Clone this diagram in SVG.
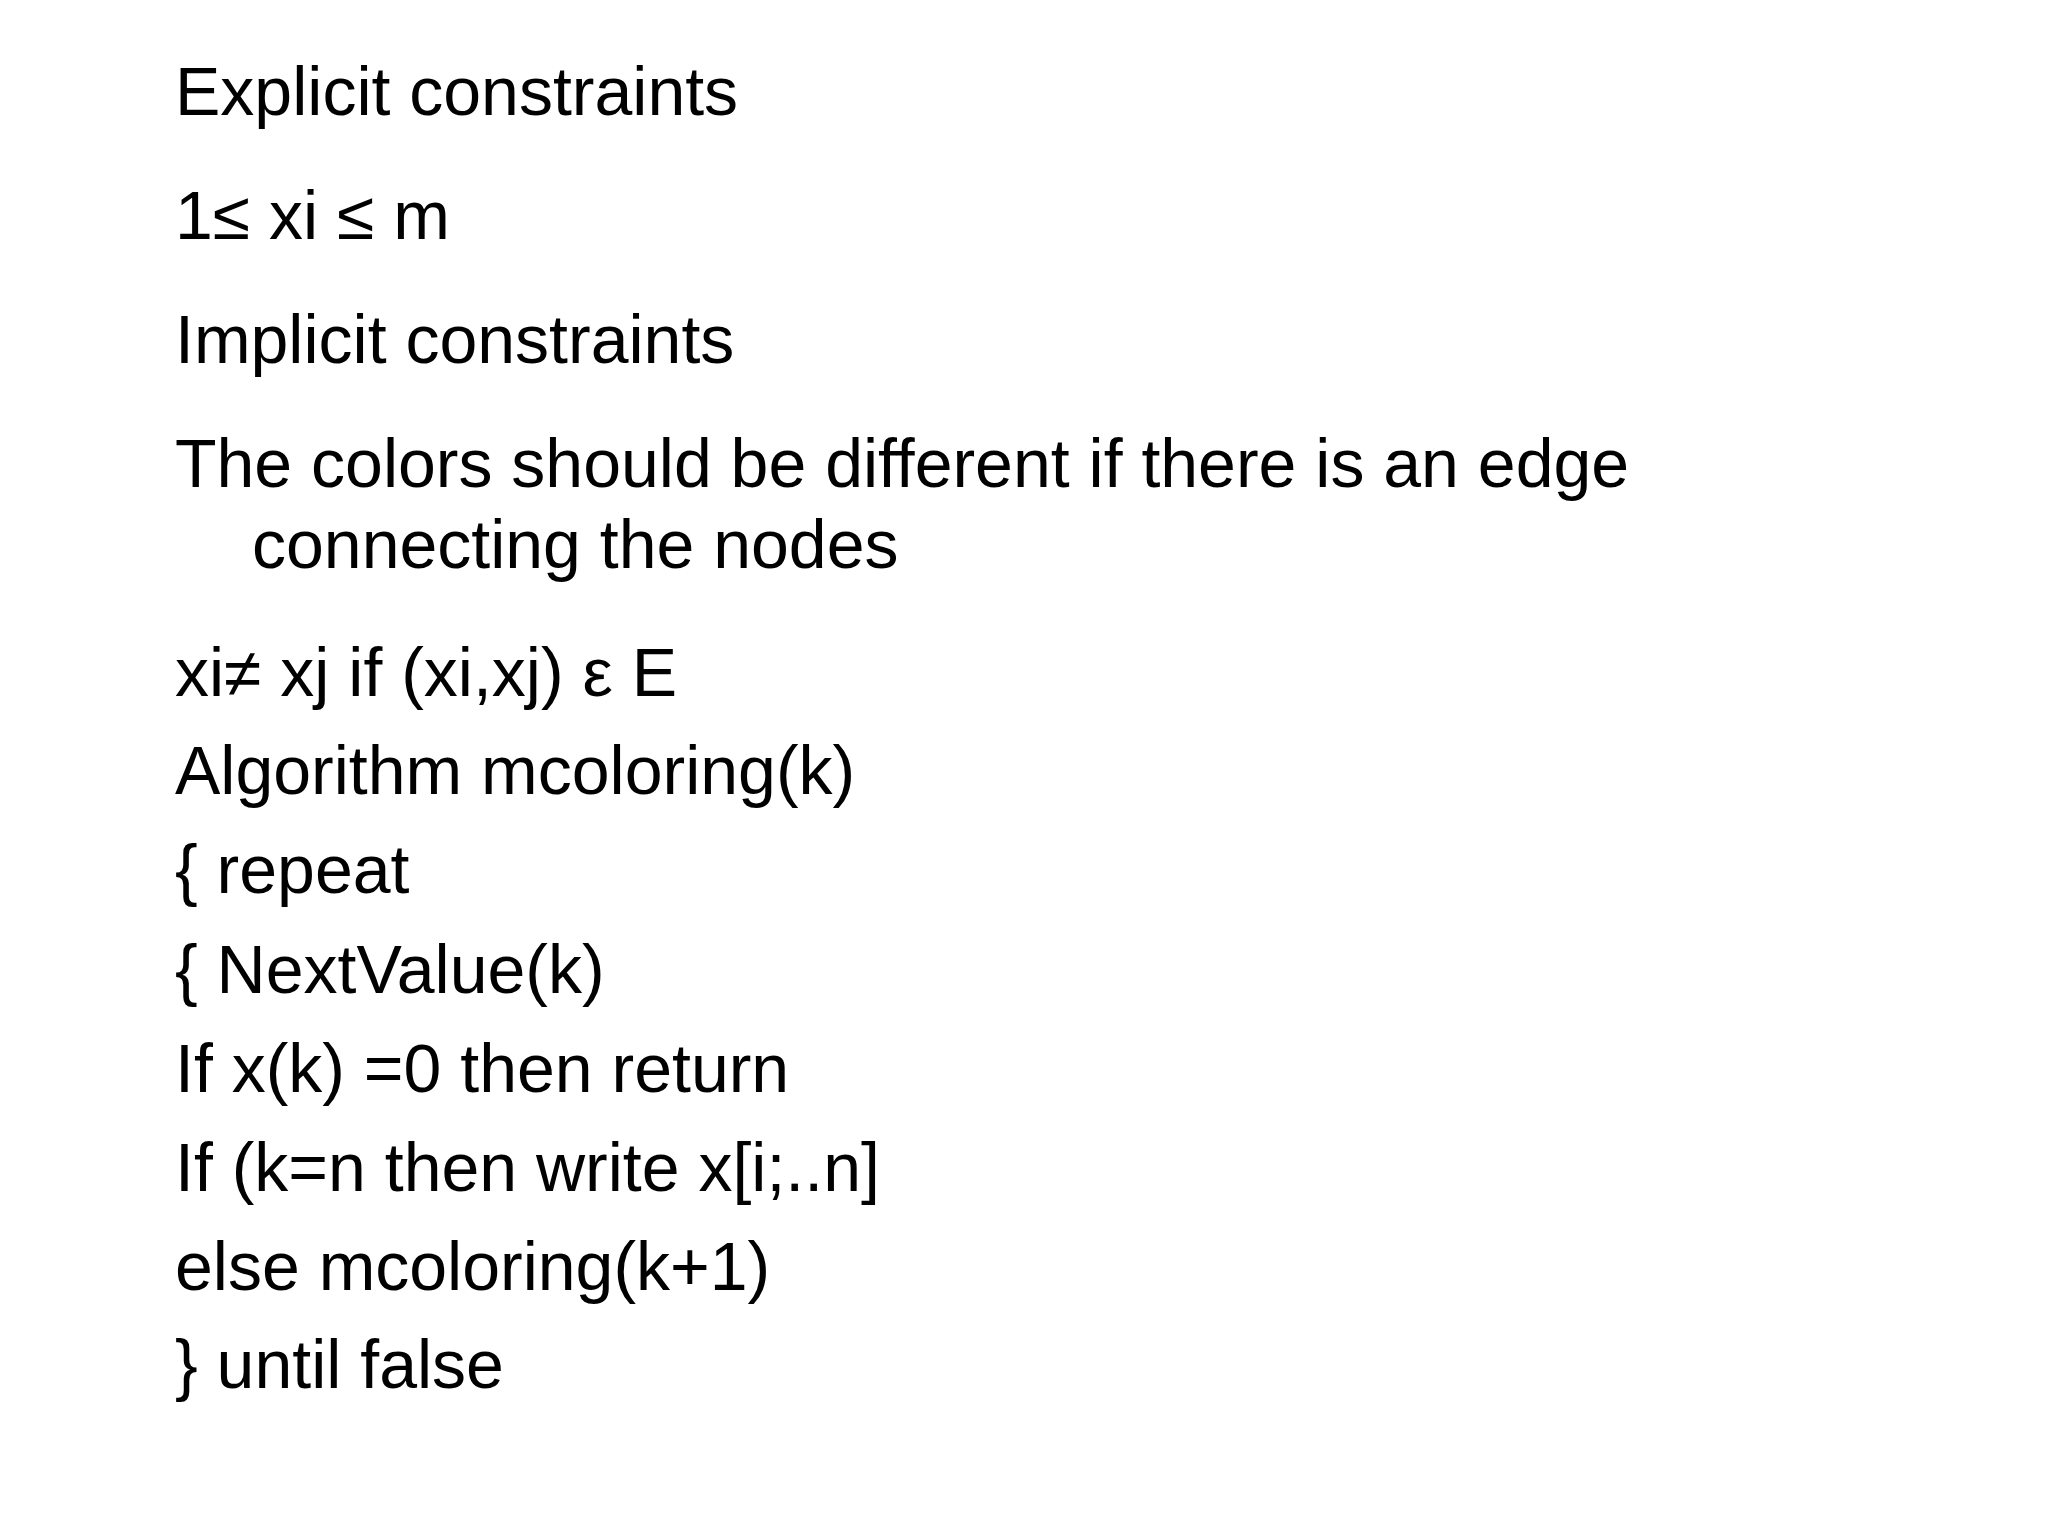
<svg xmlns="http://www.w3.org/2000/svg" width="2048" height="1536" viewBox="0 0 2048 1536">
<style>text{font-family:"Liberation Sans",Arial,sans-serif;font-size:68px;fill:#000}</style>
<rect width="2048" height="1536" fill="#fff"/>
<g id="content">
<text x="175" y="115">Explicit constraints</text>
<text x="175" y="239">1≤ xi ≤ m</text>
<text x="175" y="363">Implicit constraints</text>
<text x="175" y="487">The colors should be different if there is an edge</text>
<text x="252" y="568">connecting the nodes</text>
<text x="175" y="696">xi≠ xj if (xi,xj) ε E</text>
<text x="175" y="794">Algorithm mcoloring(k)</text>
<text x="175" y="893">{ repeat</text>
<text x="175" y="993">{ NextValue(k)</text>
<text x="175" y="1092">If x(k) =0 then return</text>
<text x="175" y="1191">If (k=n then write x[i;..n]</text>
<text x="175" y="1290">else mcoloring(k+1)</text>
<text x="175" y="1388">} until false</text>
</g>
</svg>
